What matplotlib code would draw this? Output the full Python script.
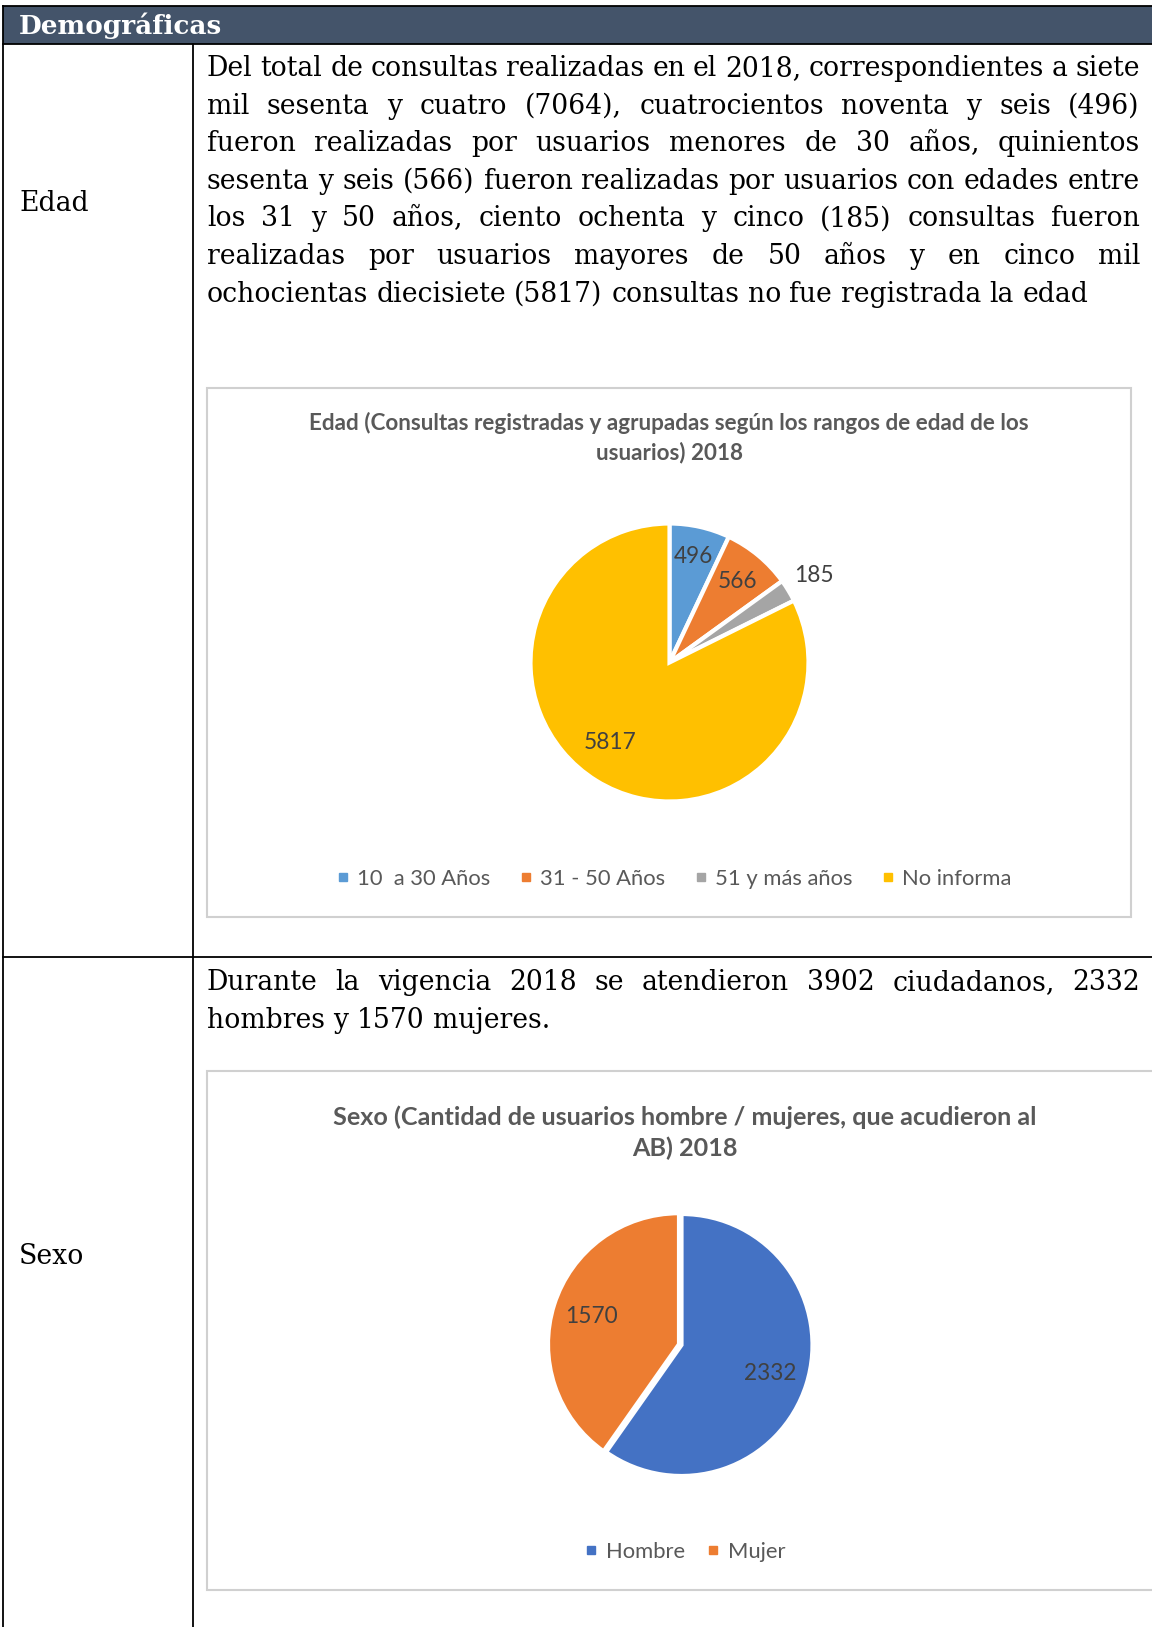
import numpy as np
import matplotlib
matplotlib.use("Agg")
import matplotlib.pyplot as plt
from matplotlib.font_manager import FontProperties
from matplotlib.textpath import TextToPath
from matplotlib.lines import Line2D
from matplotlib.patches import Rectangle

W, H, DPI = 1152, 1627, 100

edad_labels = ["10  a 30 Años", "31 - 50 Años", "51 y más años", "No informa"]
edad_values = [496, 566, 185, 5817]
edad_colors = ["#5B9BD5", "#ED7D31", "#A5A5A5", "#FFC000"]
edad_title = ["Edad (Consultas registradas y agrupadas según los rangos de edad de los",
              "usuarios) 2018"]

sexo_labels = ["Hombre", "Mujer"]
sexo_values = [2332, 1570]
sexo_colors = ["#4472C4", "#ED7D31"]
sexo_title = ["Sexo (Cantidad de usuarios hombre / mujeres, que acudieron al",
              "AB) 2018"]

edad_text = [
    "Del total de consultas realizadas en el 2018, correspondientes a siete",
    "mil sesenta y cuatro (7064), cuatrocientos noventa y seis (496)",
    "fueron realizadas por usuarios menores de 30 años, quinientos",
    "sesenta y seis (566) fueron realizadas por usuarios con edades entre",
    "los 31 y 50 años, ciento ochenta y cinco (185) consultas fueron",
    "realizadas por usuarios mayores de 50 años y en cinco mil",
    "ochocientas diecisiete (5817) consultas no fue registrada la edad",
]
sexo_text = [
    "Durante la vigencia 2018 se atendieron 3902 ciudadanos, 2332",
    "hombres y 1570 mujeres.",
]

SERIF = "DejaVu Serif"
SANS = "Lato"
ttp = TextToPath()


def text_w(s, size, family, weight="normal"):
    fp = FontProperties(family=family, size=size, weight=weight)
    w, _, _ = ttp.get_text_width_height_descent(s, fp, ismath=False)
    return w * DPI / 72


def fit(s, px, family, weight="normal"):
    return 20 * px / text_w(s, 20, family, weight)


def paragraph(ax, lines, x0, x1, y0, step, size):
    sp = text_w("a a", size, SERIF) - text_w("aa", size, SERIF)
    for i, line in enumerate(lines):
        words = line.split(" ")
        ws = [text_w(w, size, SERIF) for w in words]
        last = i == len(lines) - 1
        gap = sp if last else (x1 - x0 - sum(ws)) / (len(words) - 1)
        x = x0
        for w, wd in zip(words, ws):
            ax.text(x, y0 + i * step, w, fontsize=size, family=SERIF,
                    color="black", ha="left", va="baseline")
            x += wd + gap


def pie_axes(fig, cx, cy, r):
    return fig.add_axes([(cx - r) / W, 1 - (cy + r) / H, 2 * r / W, 2 * r / H])


def main():
    fig = plt.figure(figsize=(W / DPI, H / DPI), dpi=DPI)
    bg = fig.add_axes([0, 0, 1, 1])
    bg.set_xlim(0, W)
    bg.set_ylim(H, 0)
    bg.axis("off")

    # table frame
    bg.add_patch(Rectangle((3, 6), W, 38, facecolor="#44546A", edgecolor="none"))
    lw = 1.3
    bg.plot([3, W], [6, 6], color="black", lw=lw)
    bg.plot([3, W], [44, 44], color="black", lw=lw)
    bg.plot([3, 3], [6, H], color="black", lw=lw)
    bg.plot([193, 193], [44, H], color="black", lw=lw)
    bg.plot([3, W], [957, 957], color="black", lw=lw)

    head_size = fit("Demográficas", 203, SERIF, "bold")
    bg.text(19, 26, "Demográficas", fontsize=head_size, family=SERIF,
            weight="bold", color="white", ha="left", va="center")

    body = fit(edad_text[-1], 881, SERIF)
    bg.text(19, 203, "Edad", fontsize=body, family=SERIF, ha="left", va="center")
    bg.text(19, 1257, "Sexo", fontsize=body, family=SERIF, ha="left", va="center")
    paragraph(bg, edad_text, 207, 1140, 76, 37.6, body)
    paragraph(bg, sexo_text, 207, 1140, 990, 37.6, body)

    # chart boxes
    bg.add_patch(Rectangle((207, 388), 924, 529, facecolor="white",
                           edgecolor="#D0D0D0", lw=1.5))
    bg.add_patch(Rectangle((207, 1071), 960, 519, facecolor="white",
                           edgecolor="#D0D0D0", lw=1.5))

    tsize1 = fit(edad_title[0], 720, SANS, "bold")
    for i, t in enumerate(edad_title):
        bg.text(669, 422.5 + 30 * i, t, fontsize=tsize1, family=SANS, weight="bold",
                color="#595959", ha="center", va="center")
    tsize2 = fit(sexo_title[0], 703, SANS, "bold")
    for i, t in enumerate(sexo_title):
        bg.text(685, 1117.5 + 31 * i, t, fontsize=tsize2, family=SANS, weight="bold",
                color="#595959", ha="center", va="center")

    lab_size = fit("5817", 50, SANS) * 1.05
    leg_size = fit("No informa", 110, SANS)

    # pie 1
    ax1 = pie_axes(fig, 669.5, 662.5, 139)
    wedges, _ = ax1.pie(edad_values, colors=edad_colors, startangle=90,
                        counterclock=False,
                        wedgeprops=dict(edgecolor="white", linewidth=3))
    ax1.set_xlim(-1, 1)
    ax1.set_ylim(-1, 1)
    for wdg, v, d in zip(wedges, edad_values, [0.78, 0.76, 1.21, 0.72]):
        a = np.deg2rad((wdg.theta1 + wdg.theta2) / 2 - 5 * (v == 5817))
        ax1.text(d * np.cos(a), d * np.sin(a), str(v), fontsize=lab_size,
                 family=SANS, color="#404040", ha="center", va="center")

    # pie 2
    ax2 = pie_axes(fig, 681.5, 1345, 131)
    wedges, _ = ax2.pie(sexo_values, colors=sexo_colors, startangle=90,
                        counterclock=False, explode=[0, 0.02],
                        wedgeprops=dict(edgecolor="white", linewidth=3))
    ax2.set_xlim(-1, 1)
    ax2.set_ylim(-1, 1)
    for wdg, v, d in zip(wedges, sexo_values, [0.71, 0.72]):
        a = np.deg2rad((wdg.theta1 + wdg.theta2) / 2)
        ax2.text(d * np.cos(a), d * np.sin(a), str(v), fontsize=lab_size,
                 family=SANS, color="#404040", ha="center", va="center")

    leg_prop = FontProperties(family=SANS, size=leg_size)
    h1 = [Line2D([], [], marker="s", ls="none", color=c, markersize=5.5) for c in edad_colors]
    fig.legend(h1, edad_labels, loc="center", bbox_to_anchor=(675 / W, 1 - 879 / H),
               ncol=4, frameon=False, prop=leg_prop, labelcolor="#595959",
               handlelength=0.4, handletextpad=0.45, columnspacing=1.4)
    h2 = [Line2D([], [], marker="s", ls="none", color=c, markersize=5.5) for c in sexo_colors]
    fig.legend(h2, sexo_labels, loc="center", bbox_to_anchor=(686 / W, 1 - 1552 / H),
               ncol=2, frameon=False, prop=leg_prop, labelcolor="#595959",
               handlelength=0.4, handletextpad=0.45, columnspacing=1.1)

    fig.savefig("out.png", dpi=DPI)


if __name__ == '__main__':
    main()
